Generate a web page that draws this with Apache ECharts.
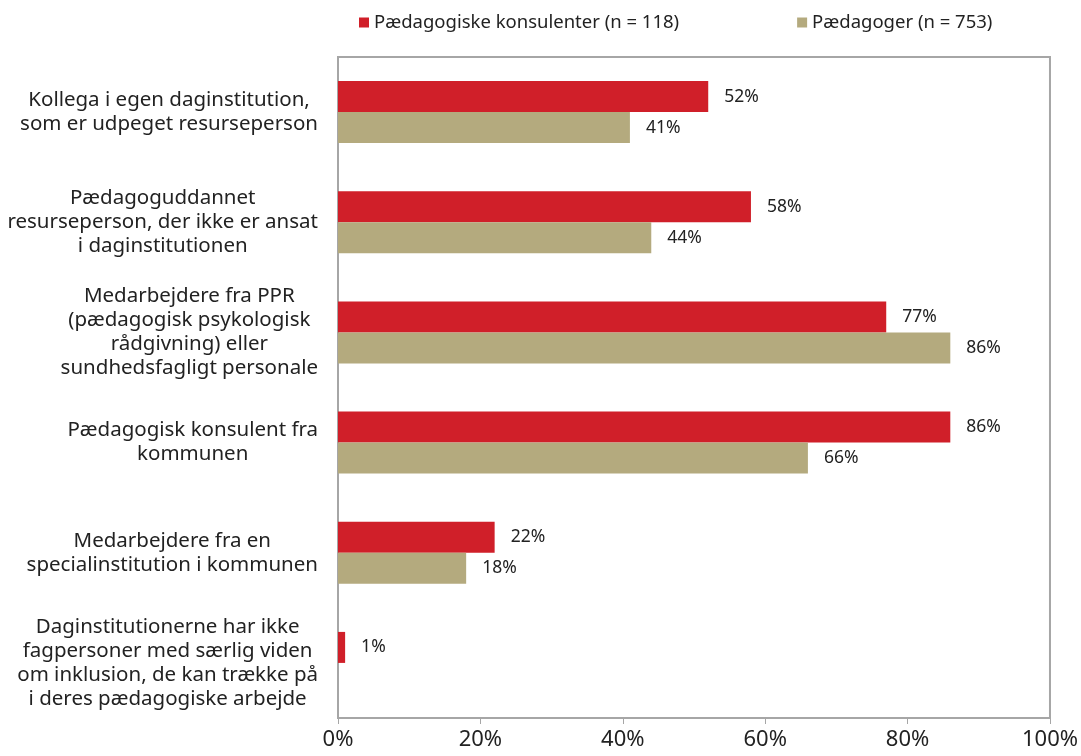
<!DOCTYPE html>
<html>
<head>
<meta charset="utf-8">
<script src="https://cdn.jsdelivr.net/npm/echarts@6/dist/echarts.min.js"></script>
<style>
  html, body { margin: 0; padding: 0; background: #fff; }
  #main { width: 1081px; height: 756px; }
</style>
</head>
<body>
<div id="main"></div>
<script>
// kategorier (linjeskift som i originalen)
var categories = [
  'Kollega i egen daginstitution,\nsom er udpeget resurseperson',
  'Pædagoguddannet\nresurseperson, der ikke er ansat\ni daginstitutionen',
  'Medarbejdere fra PPR\n(pædagogisk psykologisk\nrådgivning) eller\nsundhedsfagligt personale',
  'Pædagogisk konsulent fra\nkommunen',
  'Medarbejdere fra en\nspecialinstitution i kommunen',
  'Daginstitutionerne har ikke\nfagpersoner med særlig viden\nom inklusion, de kan trække på\ni deres pædagogiske arbejde'
];
var seriesNames = ['Pædagogiske konsulenter (n = 118)', 'Pædagoger (n = 753)'];
var konsulenter = [52, 58, 77, 86, 22, 1];
var paedagoger = [41, 44, 86, 66, 18, 0];
var xTicks = [0, 20, 40, 60, 80, 100];

var font = '"Noto Sans", "Open Sans", sans-serif';

var myChart = echarts.init(document.getElementById('main'));

function valueLabel() {
  return {
    show: true,
    position: 'right',
    distance: 16,
    color: '#222',
    fontFamily: font,
    fontSize: 17.5,
    formatter: function (p) { return p.value ? p.value + '%' : ''; }
  };
}

myChart.setOption({
  animation: false,
  legend: {
    data: seriesNames,
    left: 354,
    top: 8,
    itemWidth: 10,
    itemHeight: 10,
    itemGap: 118,
    icon: 'rect',
    textStyle: { fontFamily: font, fontSize: 18.5, color: '#222' }
  },
  grid: {
    left: 338, right: 30, top: 57, bottom: 38,
    show: true, borderColor: '#a6a6a6', borderWidth: 2
  },
  xAxis: {
    type: 'value',
    min: 0, max: 100, interval: 20,
    axisLine: { show: true, lineStyle: { color: '#a6a6a6', width: 2 } },
    axisTick: { show: true, length: 6, lineStyle: { color: '#a6a6a6' } },
    splitLine: { show: false },
    axisLabel: {
      margin: 11,
      fontFamily: font, fontSize: 22, color: '#222',
      formatter: function (v) { return xTicks.indexOf(v) >= 0 ? v + '%' : ''; }
    }
  },
  yAxis: {
    type: 'category',
    inverse: true,
    data: categories,
    axisLine: { show: true, lineStyle: { color: '#a6a6a6', width: 2 } },
    axisTick: { show: false },
    axisLabel: {
      margin: 20,
      align: 'right',
      fontFamily: font, fontSize: 20.5, color: '#222',
      lineHeight: 24,
      formatter: function (v) {
        return v.split('\n').map(function (l) { return '{c|' + l + '}'; }).join('\n');
      },
      rich: {
        c: { align: 'center', fontFamily: font, fontSize: 20.5, color: '#222', lineHeight: 24 }
      }
    }
  },
  series: [
    {
      name: seriesNames[0],
      type: 'bar',
      data: konsulenter,
      barWidth: 31,
      barGap: '0%',
      itemStyle: { color: '#d01f29' },
      label: valueLabel()
    },
    {
      name: seriesNames[1],
      type: 'bar',
      data: paedagoger,
      barWidth: 31,
      barGap: '0%',
      itemStyle: { color: '#b4aa7e' },
      label: valueLabel()
    }
  ]
});
</script>
</body>
</html>
